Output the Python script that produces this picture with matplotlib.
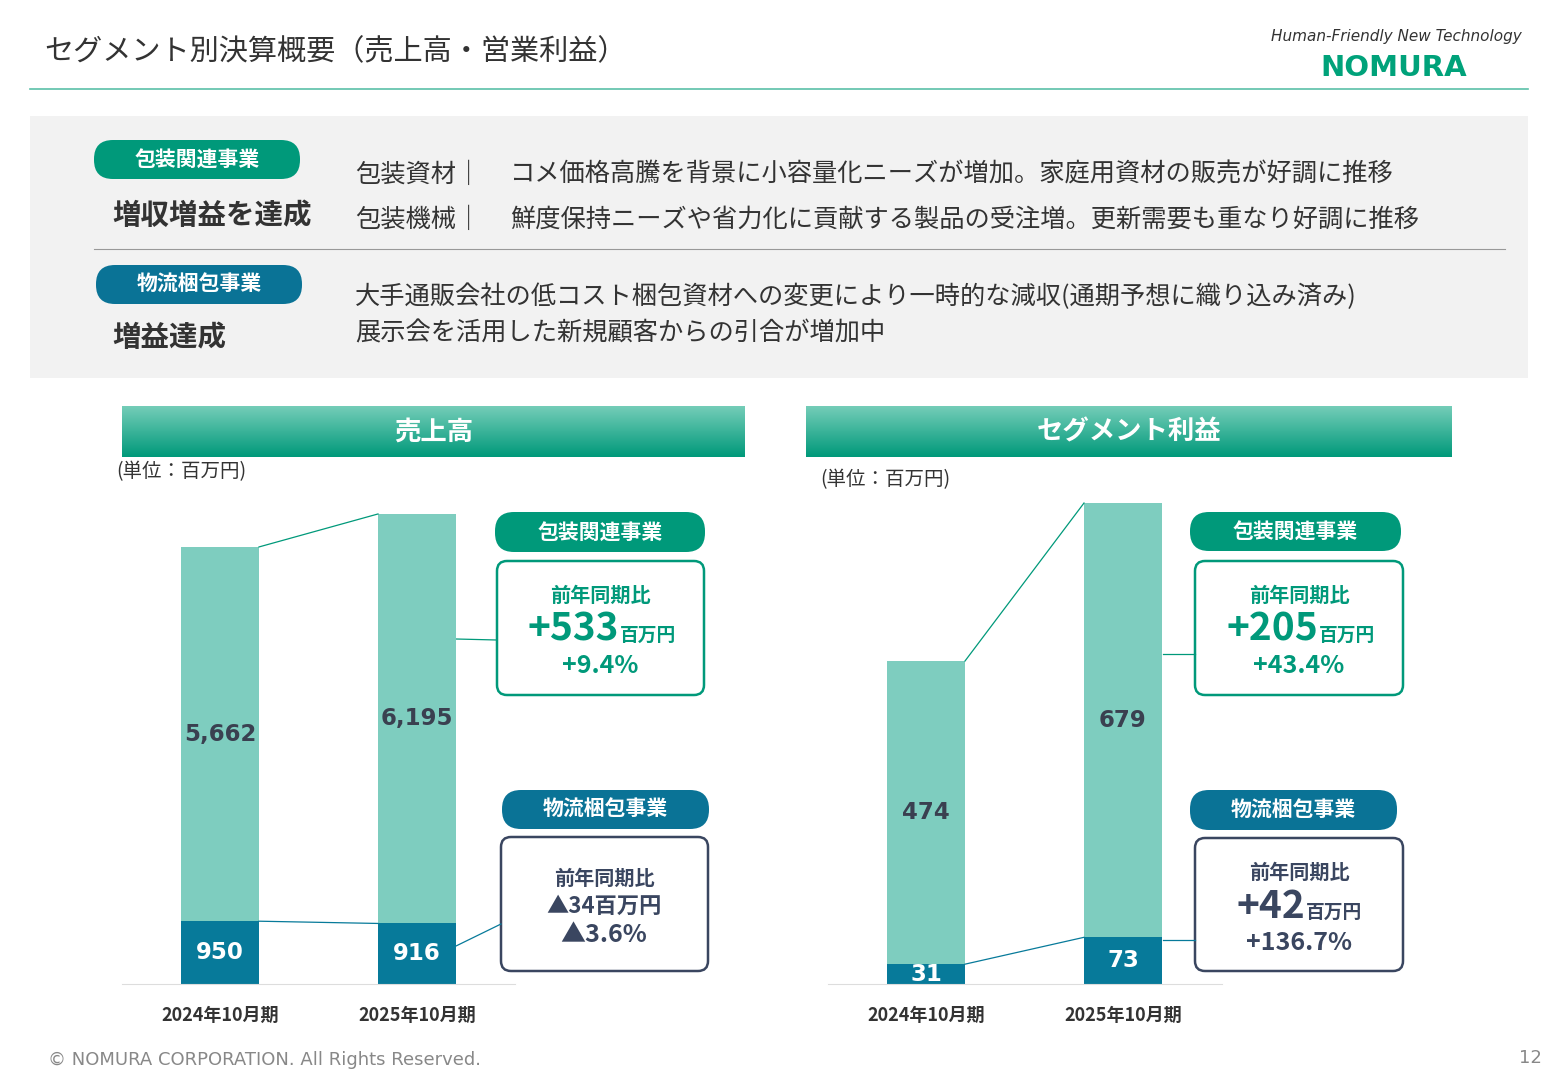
import matplotlib
matplotlib.use("Agg")
import matplotlib.pyplot as plt
import numpy as np
from matplotlib.patches import FancyBboxPatch, Rectangle
from matplotlib.colors import LinearSegmentedColormap

plt.rcParams['font.family'] = ['Noto Sans CJK JP', 'DejaVu Sans']

periods = ["2024年10月期", "2025年10月期"]
sales_pack = [5662, 6195]
sales_logi = [950, 916]
profit_pack = [474, 679]
profit_logi = [31, 73]

LT = "#7ECDBF"; DK = "#077A9A"; GR = "#00997A"; BL = "#0A7396"; NAVY = "#3A4660"; TX = "#333333"

W, H = 1560, 1080
fig = plt.figure(figsize=(15.6, 10.8), dpi=100)
ov = fig.add_axes([0, 0, 1, 1], zorder=0)
ov.set_xlim(0, W); ov.set_ylim(H, 0); ov.axis("off")

def T(x, y, s, size, color=TX, weight="normal", ha="left", va="center", **kw):
    ov.text(x, y, s, fontsize=size, color=color, fontweight=weight, ha=ha, va=va, **kw)

def pill(x0, x1, y0, y1, color, text):
    ov.add_patch(FancyBboxPatch((x0, y0), x1 - x0, y1 - y0, boxstyle="round,pad=0,rounding_size=19",
                                fc=color, ec="none"))
    T((x0 + x1) / 2, (y0 + y1) / 2, text, 15, "white", "bold", ha="center")

def box(x0, x1, y0, y1, ec):
    ov.add_patch(FancyBboxPatch((x0, y0), x1 - x0, y1 - y0, boxstyle="round,pad=0,rounding_size=10",
                                fc="white", ec=ec, lw=1.8))

# header
T(44, 52, "セグメント別決算概要（売上高・営業利益）", 21)
T(1522, 36, "Human-Friendly New Technology", 11, TX, ha="right", style="italic", family="DejaVu Sans")
T(1394, 68, "NOMURA", 21, "#00A27A", "bold", ha="center", family="DejaVu Sans")
ov.plot([30, 1528], [89, 89], color="#5BC0A8", lw=1.2)

# grey panel
ov.add_patch(Rectangle((30, 116), 1498, 262, fc="#F2F2F2", ec="none"))
pill(94, 300, 140, 179, GR, "包装関連事業")
T(112, 216, "増収増益を達成", 20.5, TX, "bold")
T(355, 175, "包装資材｜", 18.2)
T(510, 175, "コメ価格高騰を背景に小容量化ニーズが増加。家庭用資材の販売が好調に推移", 18.2)
T(355, 220, "包装機械｜", 18.2)
T(510, 220, "鮮度保持ニーズや省力化に貢献する製品の受注増。更新需要も重なり好調に推移", 18.2)
ov.plot([94, 1505], [249, 249], color="#999999", lw=0.8)
pill(96, 302, 265, 304, BL, "物流梱包事業")
T(112, 338, "増益達成", 20.5, TX, "bold")
T(355, 297, "大手通販会社の低コスト梱包資材への変更により一時的な減収(通期予想に織り込み済み)", 18.2)
T(355, 333, "展示会を活用した新規顧客からの引合が増加中", 18.2)

# gradient headers
grad = np.linspace(0, 1, 100).reshape(-1, 1)
cm = LinearSegmentedColormap.from_list("g", ["#74CDB8", "#00997A"])
for (x0, x1, title) in [(122, 745, "売上高"), (806, 1452, "セグメント利益")]:
    ov.imshow(grad, cmap=cm, extent=(x0, x1, 457, 406), aspect="auto", zorder=1)
    T((x0 + x1) / 2, 432, title, 19, "white", "bold", ha="center", zorder=2)
ov.set_xlim(0, W); ov.set_ylim(H, 0)
T(116, 472, "(単位：百万円)", 14)
T(820, 480, "(単位：百万円)", 14)

# callouts
pill(495, 705, 512, 552, GR, "包装関連事業")
box(497, 704, 561, 695, GR)
T(600, 595, "前年同期比", 14.5, GR, "bold", ha="center")
ov.text(619, 629, "+533", fontsize=28, color=GR, fontweight="bold", ha="right", va="center")
T(620, 635, "百万円", 13.5, GR, "bold")
T(600, 666, "+9.4%", 18, GR, "bold", ha="center")
pill(502, 709, 790, 829, BL, "物流梱包事業")
box(501, 708, 837, 971, NAVY)
T(604, 878, "前年同期比", 14.5, NAVY, "bold", ha="center")
T(604, 906, "▲34百万円", 16, NAVY, "bold", ha="center")
T(604, 935, "▲3.6%", 18, NAVY, "bold", ha="center")

pill(1190, 1401, 512, 551, GR, "包装関連事業")
box(1195, 1403, 561, 695, GR)
T(1299, 595, "前年同期比", 14.5, GR, "bold", ha="center")
ov.text(1318, 629, "+205", fontsize=28, color=GR, fontweight="bold", ha="right", va="center")
T(1319, 635, "百万円", 13.5, GR, "bold")
T(1299, 666, "+43.4%", 18, GR, "bold", ha="center")
pill(1190, 1397, 790, 830, BL, "物流梱包事業")
box(1195, 1403, 838, 971, NAVY)
T(1299, 872, "前年同期比", 14.5, NAVY, "bold", ha="center")
ov.text(1305, 906, "+42", fontsize=28, color=NAVY, fontweight="bold", ha="right", va="center")
T(1306, 912, "百万円", 13.5, NAVY, "bold")
T(1299, 943, "+136.7%", 18, NAVY, "bold", ha="center")

ov.plot([456, 497], [639, 640], color=GR, lw=0.9)
ov.plot([456, 501], [946, 924], color=DK, lw=0.9)
ov.plot([1163, 1195], [654, 654], color=GR, lw=0.9)
ov.plot([1163, 1195], [940, 940], color=DK, lw=0.9)

T(48, 1060, "© NOMURA CORPORATION. All Rights Reserved.", 13, "#888888", family="DejaVu Sans")
T(1542, 1058, "12", 13, "#888888", ha="right", family="DejaVu Sans")

def barax(x0, x1, ytop, base, ymax, pack, logi):
    ax = fig.add_axes([x0 / W, (H - base) / H, (x1 - x0) / W, (base - ytop) / H], zorder=2)
    ax.patch.set_alpha(0)
    ax.set_xlim(x0, x1); ax.set_ylim(0, ymax)
    xs = [x0 + 98, x0 + 295]; bw = 78
    ax.bar(xs, logi, width=bw, color=DK, zorder=2)
    ax.bar(xs, pack, width=bw, bottom=logi, color=LT, zorder=2)
    tops = [p + l for p, l in zip(pack, logi)]
    ax.plot([xs[0] + bw / 2, xs[1] - bw / 2], tops, color=GR, lw=0.9)
    ax.plot([xs[0] + bw / 2, xs[1] - bw / 2], logi, color=DK, lw=0.9)
    for i, x in enumerate(xs):
        ax.text(x, logi[i] + pack[i] * 0.5, f"{pack[i]:,}", ha="center", va="center",
                fontsize=16.5, fontweight="bold", color="#3A4050", family="DejaVu Sans")
        ax.text(x, logi[i] / 2, f"{logi[i]:,}", ha="center", va="center",
                fontsize=16.5, fontweight="bold", color="white", family="DejaVu Sans")
    for s in ["top", "right", "left"]:
        ax.spines[s].set_visible(False)
    ax.spines["bottom"].set_color("#DDDDDD")
    ax.set_yticks([])
    ax.set_xticks(xs); ax.set_xticklabels(periods, fontsize=13, fontweight="bold", color=TX)
    ax.tick_params(axis="x", length=0, pad=16)
    return ax

barax(122, 515, 500, 984, 484 / 0.0661, sales_pack, sales_logi)
barax(828, 1222, 490, 984, 494 / 0.6396, profit_pack, profit_logi)

fig.savefig("out.png", dpi=100)
